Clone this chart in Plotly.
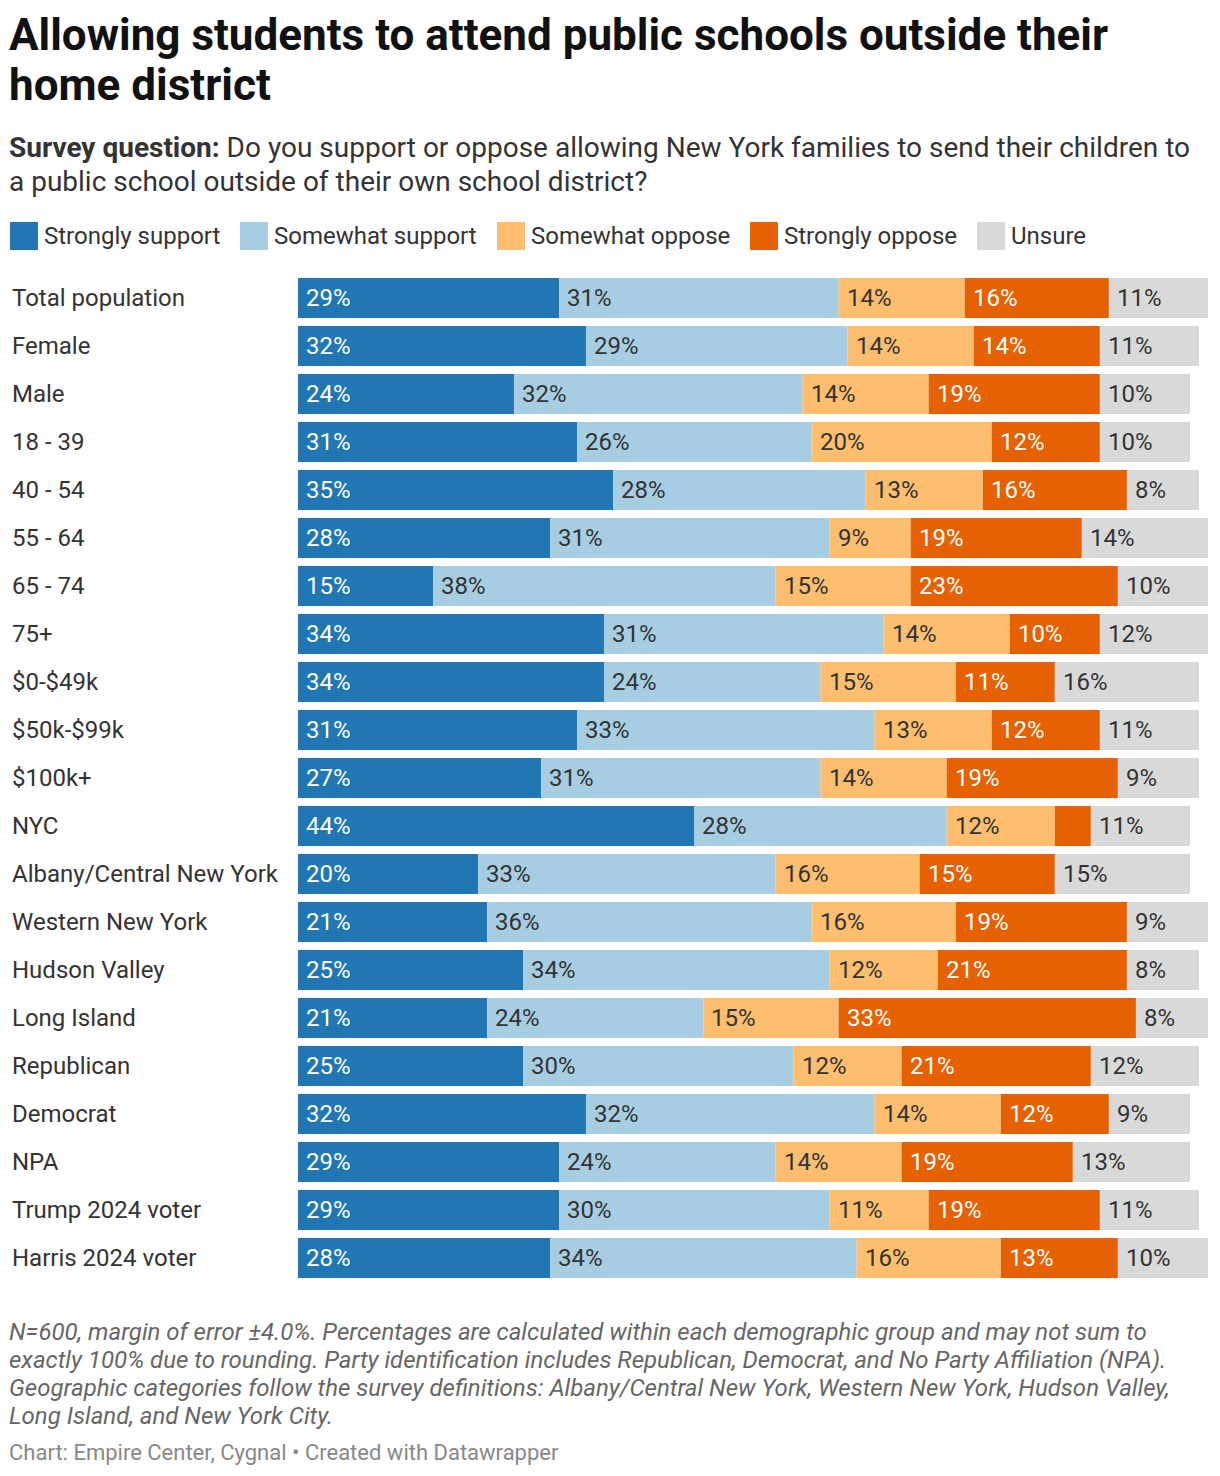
import plotly.graph_objects as go

# Survey groups (rows, top to bottom)
groups = ["Total population", "Female", "Male", "18 - 39", "40 - 54", "55 - 64",
          "65 - 74", "75+", "$0-$49k", "$50k-$99k", "$100k+", "NYC",
          "Albany/Central New York", "Western New York", "Hudson Valley",
          "Long Island", "Republican", "Democrat", "NPA", "Trump 2024 voter",
          "Harris 2024 voter"]

strongly_support = [29, 32, 24, 31, 35, 28, 15, 34, 34, 31, 27, 44, 20, 21, 25, 21, 25, 32, 29, 29, 28]
somewhat_support = [31, 29, 32, 26, 28, 31, 38, 31, 24, 33, 31, 28, 33, 36, 34, 24, 30, 32, 24, 30, 34]
somewhat_oppose = [14, 14, 14, 20, 13, 9, 15, 14, 15, 13, 14, 12, 16, 16, 12, 15, 12, 14, 14, 11, 16]
strongly_oppose = [16, 14, 19, 12, 16, 19, 23, 10, 11, 12, 19, 4, 15, 19, 21, 33, 21, 12, 19, 19, 13]
unsure = [11, 11, 10, 10, 8, 14, 10, 12, 16, 11, 9, 11, 15, 9, 8, 8, 12, 9, 13, 11, 10]

series = [
    ("Strongly support", strongly_support, "#2077b4", "white"),
    ("Somewhat support", somewhat_support, "#a6cde2", "#333333"),
    ("Somewhat oppose", somewhat_oppose, "#fdbe6f", "#333333"),
    ("Strongly oppose", strongly_oppose, "#e66101", "white"),
    ("Unsure", unsure, "#d9d9d9", "#333333"),
]

FONT = "Roboto"
OFF = 8  # page margin of the browser
W, H = 1220 - OFF, 1476 - OFF
PL, PR, PT, PB = 298, 1208, 274, 1282  # plot area in screen pixels


def px(x):
    return (x - PL) / (PR - PL)


def py(y):
    return (PB - y) / (PB - PT)


fig = go.Figure()
annotations = []
base = [0] * len(groups)
for name, vals, color, tcolor in series:
    fig.add_trace(go.Bar(
        y=groups, x=vals, base=base, orientation="h", name=name,
        marker=dict(color=color, line=dict(width=0)),
        hoverinfo="skip", showlegend=False,
    ))
    for g, b, v in zip(groups, base, vals):
        if v >= 5:
            annotations.append(dict(
                x=b, y=g, xref="x", yref="y", text=f"{v}%", showarrow=False,
                xanchor="left", yanchor="middle", xshift=6,
                font=dict(family=FONT, size=24, color=tcolor),
            ))
    base = [b + v for b, v in zip(base, vals)]

# row labels
for g in groups:
    annotations.append(dict(
        x=px(10), y=g, xref="paper", yref="y", text=g, showarrow=False,
        xanchor="left", yanchor="middle",
        font=dict(family=FONT, size=24, color="#333333"),
    ))

# title and subtitle
for text, yc in [("Allowing students to attend public schools outside their", 35),
                 ("home district", 85)]:
    annotations.append(dict(
        x=px(7), y=py(yc), xref="paper", yref="paper", text=f"<b>{text}</b>",
        showarrow=False, xanchor="left", yanchor="middle",
        font=dict(family=FONT, size=44, color="#111111"),
    ))
for text, yc in [("<b>Survey question:</b> Do you support or oppose allowing New York families to send their children to", 147),
                 ("a public school outside of their own school district?", 181)]:
    annotations.append(dict(
        x=px(7), y=py(yc), xref="paper", yref="paper", text=text,
        showarrow=False, xanchor="left", yanchor="middle",
        font=dict(family=FONT, size=28, color="#333333"),
    ))

# legend
shapes = []
legend_x = [10, 240, 497, 750, 977]
for (name, _, color, _), lx in zip(series, legend_x):
    shapes.append(dict(type="rect", xref="paper", yref="paper",
                       x0=px(lx), x1=px(lx + 28), y0=py(250), y1=py(222),
                       fillcolor=color, line=dict(width=0)))
    annotations.append(dict(
        x=px(lx + 32), y=py(236), xref="paper", yref="paper", text=name,
        showarrow=False, xanchor="left", yanchor="middle",
        font=dict(family=FONT, size=24, color="#333333"),
    ))

# notes
notes = [
    "N=600, margin of error ±4.0%. Percentages are calculated within each demographic group and may not sum to",
    "exactly 100% due to rounding. Party identification includes Republican, Democrat, and No Party Affiliation (NPA).",
    "Geographic categories follow the survey definitions: Albany/Central New York, Western New York, Hudson Valley,",
    "Long Island, and New York City.",
]
for i, t in enumerate(notes):
    annotations.append(dict(
        x=px(7), y=py(1332 + 28 * i), xref="paper", yref="paper", text=f"<i>{t}</i>",
        showarrow=False, xanchor="left", yanchor="middle",
        font=dict(family=FONT, size=24, color="#666666"),
    ))
annotations.append(dict(
    x=px(7), y=py(1452), xref="paper", yref="paper",
    text="Chart: Empire Center, Cygnal • Created with Datawrapper",
    showarrow=False, xanchor="left", yanchor="middle",
    font=dict(family=FONT, size=22, color="#888888"),
))

fig.update_layout(
    width=W, height=H,
    margin=dict(l=PL - OFF, r=1220 - PR, t=PT - OFF, b=1476 - PB, pad=0),
    barmode="overlay", bargap=8 / 48,
    plot_bgcolor="white", paper_bgcolor="white",
    xaxis=dict(range=[0, 101], visible=False, fixedrange=True),
    yaxis=dict(autorange="reversed", showticklabels=False, showgrid=False,
               zeroline=False, fixedrange=True),
    annotations=annotations, shapes=shapes,
    font=dict(family=FONT),
)

fig.write_html("out.html")
